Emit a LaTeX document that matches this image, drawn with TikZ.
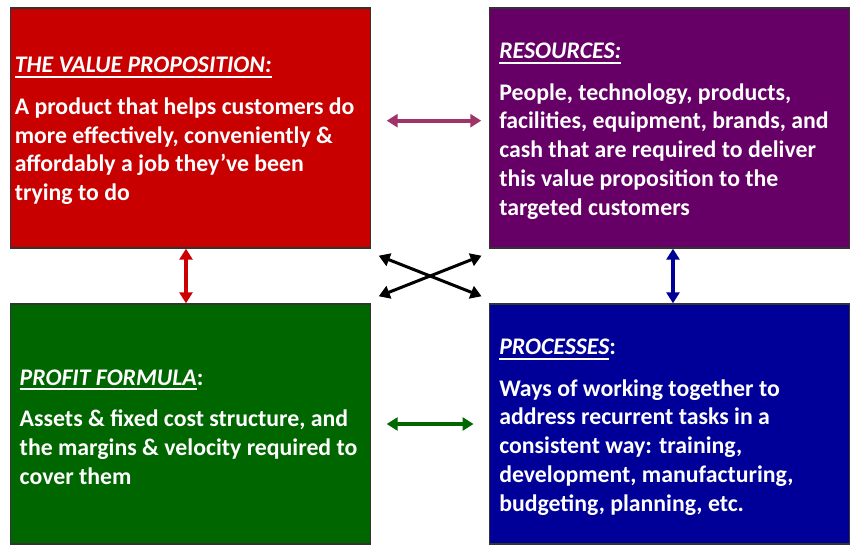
\documentclass[tikz,border=0pt]{standalone}
\usepackage{fontspec}
\setmainfont{Carlito}
\usetikzlibrary{arrows.meta}
\definecolor{valred}{RGB}{200,0,0}
\definecolor{respurple}{RGB}{102,0,102}
\definecolor{profgreen}{RGB}{0,102,0}
\definecolor{procblue}{RGB}{0,0,153}
\definecolor{plum}{RGB}{158,52,104}
\definecolor{arrred}{RGB}{204,0,0}
% underlined heading
\newcommand\hdul[1]{\setbox0\hbox{#1}\rlap{\rule[-5pt]{\wd0}{2pt}}\box0}
\tikzset{
  box/.style={draw=black!80, line width=1.4pt, minimum width=360pt, minimum height=240pt, inner sep=0pt},
  boxtext/.style={anchor=west, align=left, text=white, inner sep=0pt,
    font=\bfseries\fontsize{23.8}{28.7}\selectfont},
  link/.style={line width=4pt, {Triangle[length=11pt,width=13pt]}-{Triangle[length=11pt,width=13pt]}},
}
\begin{document}
\begin{tikzpicture}[x=1pt, y=1pt]
\useasboundingbox (0,0) rectangle (851,-545);
% value proposition
  \node[box, fill=valred] (value) at (190.25,-128) {};
  \node[boxtext, xshift=5pt, yshift=-3pt] (valuetxt) at (value.west)%
{%
  {\itshape\hdul{THE VALUE PROPOSITION:}}\\[13pt]
  A product that helps customers do\\
  more effectively, conveniently \&\\
  affordably a job they’ve been\\
  trying to do
};
% resources
  \node[box, fill=respurple] (res) at (669.75,-128) {};
  \node[boxtext, xshift=10pt, yshift=-3pt] (restxt) at (res.west)%
{%
  {\itshape\hdul{RESOURCES:}}\\[13pt]
  People, technology, products,\\
  facilities, equipment, brands, and\\
  cash that are required to deliver\\
  this value proposition to the\\
  targeted customers
};
% profit formula
  \node[box, fill=profgreen] (prof) at (190.25,-424) {};
  \node[boxtext, xshift=10pt, yshift=-3pt] (proftxt) at (prof.west)%
{%
  \hdul{\itshape PROFIT FORMULA}:\\[13pt]
  Assets \& fixed cost structure, and\\
  the margins \& velocity required to\\
  cover them
};
% processes
  \node[box, fill=procblue] (proc) at (669.75,-424) {};
  \node[boxtext, xshift=10pt, yshift=-3pt] (proctxt) at (proc.west)%
{%
  \hdul{\itshape PROCESSES}:\\[13pt]
  Ways of working together to\\
  address recurrent tasks in a\\
  consistent way: training,\\
  development, manufacturing,\\
  budgeting, planning, etc.
};
%%%%%%%%%%%%%%%%
\draw[link, plum, shorten <=15.75pt, shorten >=7.8pt] ([yshift=7.3pt]value.east) -- ([yshift=7.3pt]res.west);
\draw[link, profgreen, shorten <=15.75pt, shorten >=15.5pt] (prof.east) -- (proc.west);
\draw[link, arrred] ([xshift=-4.25pt]value.south) -- ([xshift=-4.25pt]prof.north);
\draw[link, procblue] ([xshift=3.25pt]res.south) -- ([xshift=3.25pt]proc.north);
\draw[link, black, line width=3pt] ([shift={(7.75,-7)}]value.south east) -- ([shift={(-7.5,7)}]proc.north west);
\draw[link, black, line width=3pt] ([shift={(7.75,7)}]prof.north east) -- ([shift={(-7.5,-7)}]res.south west);
\end{tikzpicture}
\end{document}
